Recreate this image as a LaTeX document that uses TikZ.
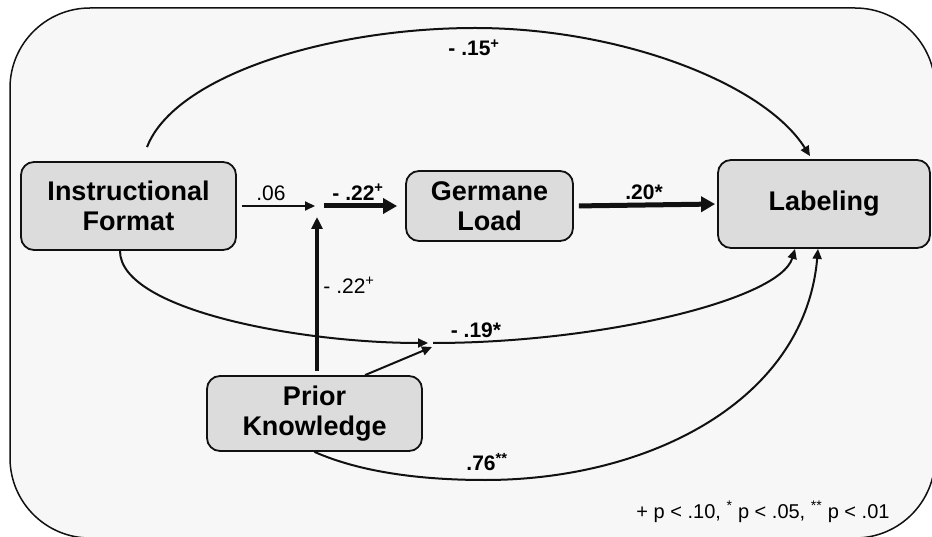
\documentclass[tikz,border=0pt]{standalone}
\usepackage{fontspec}
\setmainfont{Liberation Sans}
\usetikzlibrary{arrows.meta,calc}
\definecolor{panel}{HTML}{F7F7F7}
\definecolor{boxfill}{HTML}{DCDCDC}
\definecolor{ink}{HTML}{111111}

\begin{document}
\begin{tikzpicture}[x=1pt,y=-1pt,
  var/.style={draw=ink, line width=1.8pt, fill=boxfill, rounded corners=13pt,
    align=center, inner sep=0pt, font=\fontsize{27}{30}\selectfont\bfseries},
  paththin/.style={draw=ink, line width=2pt, -{Triangle[length=10pt,width=9pt]}},
  pathmid/.style={draw=ink, line width=4pt, -{Triangle[length=12pt,width=11pt]}},
  paththick/.style={draw=ink, line width=5pt, -{Triangle[length=14pt,width=15pt]}},
  coef/.style={inner sep=0pt, font=\fontsize{21}{21}\selectfont},
  coefb/.style={inner sep=0pt, font=\fontsize{21}{21}\selectfont\bfseries}]

\useasboundingbox (0,0) rectangle (932,537);
\clip (0,0) rectangle (932,537);

% outer panel
\draw[draw=ink, line width=1.5pt, fill=panel, rounded corners=80pt] (10,8) rectangle (935,538);

% variables
\node[var, minimum width=215pt, minimum height=88pt] (IF) at (128.5,206) {Instructional\\Format};
\node[var, minimum width=167pt, minimum height=70pt] (GL) at (489.5,206) {Germane\\Load};
\node[var, minimum width=212pt, minimum height=88pt] (LB) at (824,204) {Labeling};
\node[var, minimum width=215pt, minimum height=75pt] (PK) at (314.5,413.5) {Prior\\Knowledge};

% moderation junctions
\coordinate (jA) at (317,206);
\coordinate (jB) at (430,343);
\coordinate (jC) at (432,347);

% path a with moderation by prior knowledge
\draw[paththin, shorten <=5pt, shorten >=2pt] (IF.east) -- (jA);
\draw[paththick, shorten <=7pt, shorten >=8pt] (jA) -- (GL.west);
\draw[pathmid, shorten <=4pt, shorten >=11pt] (jA |- PK.north) -- (jA);
% path b
\draw[paththick, shorten <=5pt, shorten >=2pt] (GL.east) -- (LB.west);

% direct effect of format
\draw[paththin] ($(IF.north)+(18.5,-14)$) .. controls (175,75) and (330,28) .. (475,28)
  .. controls (620,28) and (764,83) .. ($(LB.north)+(-14,-3)$);

% format x prior knowledge interaction
\draw[paththin, shorten >=2pt] ($(IF.south)+(-8.5,0)$) .. controls (120,310) and (300,343) .. (jB);
\draw[paththin] ($(jB)+(3,0)$) .. controls (600,343) and (780,300) .. ($(LB.south)+(-29,0)$);
\draw[paththin] ($(PK.north)+(50.5,0)$) -- (jC);

% prior knowledge on labeling
\draw[paththin] (PK.south) .. controls (360,472) and (420,480) .. (485,480)
  .. controls (650,480) and (805,400) .. ($(LB.south)+(-6,0)$);

% coefficients
\node[coefb] (c15) at (474,48) {- .15\textsuperscript{+}};
\node[coef] (c06) at (271,193) {.06};
\node[coefb] (c22a) at (358,192) {- .22\textsuperscript{+}};
\node[coef] (c22b) at (349,285) {- .22\textsuperscript{+}};
\node[coefb] (c20) at (644,192) {.20*};
\node[coefb] (c19) at (476,330) {- .19*};
\node[coefb] (c76) at (487,462) {.76\textsuperscript{**}};

% significance legend
\node[inner sep=0pt, font=\fontsize{20}{20}\selectfont] (legend) at (763,512)
  {+ p < .10, \textsuperscript{*} p < .05, \textsuperscript{**} p < .01};
\end{tikzpicture}
\end{document}
